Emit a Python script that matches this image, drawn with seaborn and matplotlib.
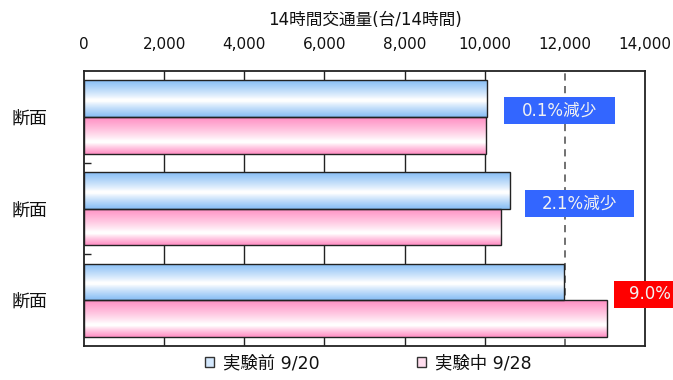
import numpy as np
import pandas as pd
import matplotlib
matplotlib.use("Agg")
import matplotlib.pyplot as plt
import seaborn as sns
from matplotlib.colors import to_rgb
from matplotlib.patches import Rectangle, Patch

# --- data -------------------------------------------------------------
section_ids = ["断面1", "断面2", "断面3"]
section_labels = ["断面", "断面", "断面"]
periods = ["実験前 9/20", "実験中 9/28"]
before = [10050, 10633, 11983]
during = [10040, 10410, 13061]
x_ticks = [0, 2000, 4000, 6000, 8000, 10000, 12000, 14000]
x_title = "14時間交通量(台/14時間)"

# --- style ------------------------------------------------------------
sns.set_theme(style="white")
plt.rcParams["font.family"] = ["DejaVu Sans", "Noto Sans CJK JP"]

blue = "#86BDF5"
pink = "#FF8EC3"
edge = "#222222"

df = pd.DataFrame({
    "section": section_ids * 2,
    "period": [periods[0]] * len(before) + [periods[1]] * len(during),
    "volume": before + during,
})

fig = plt.figure(figsize=(6.73, 3.80), dpi=100)
ax = fig.add_axes([84 / 673, 1 - 346 / 380, (645 - 84) / 673, (346 - 71) / 380])

sns.barplot(data=df, y="section", x="volume", hue="period",
            order=section_ids, hue_order=periods, orient="h",
            width=0.8, palette=[blue, pink], edgecolor=edge, linewidth=1.0,
            errorbar=None, legend=False, ax=ax, zorder=3)


def gradient(color, center):
    """Column of colours: saturated at both edges, white around `center`."""
    t = np.linspace(0, 1, 200)
    span = np.where(t < center, center, 1 - center)
    w = np.clip((np.abs(t - center) / span - 0.06) / 0.94, 0, 1) ** 0.85
    c = np.array(to_rgb(color))
    rows = (1 - w)[:, None] * 1.0 + w[:, None] * c[None, :]
    return rows[:, None, :]


# gradient fill clipped to every bar
for container, color, center in zip(ax.containers, [blue, pink], [0.55, 0.68]):
    img = gradient(color, center)
    for bar in container:
        x0, y0 = bar.get_x(), bar.get_y()
        w, h = bar.get_width(), bar.get_height()
        im = ax.imshow(img, extent=(x0, x0 + w, y0 + h, y0), origin="upper",
                       aspect="auto", interpolation="bilinear", zorder=2)
        im.set_clip_path(bar)
        bar.set_facecolor("none")

ax.set_xlim(x_ticks[0], x_ticks[-1])
ax.set_ylim(2.5, -0.5)
ax.set_aspect("auto")

# vertical gridlines behind the bars
for v in x_ticks[1:-2]:
    ax.axvline(v, color=edge, lw=1.0, zorder=1)
ax.axvline(x_ticks[-2], color="#666666", lw=1.3, dashes=(4, 3), zorder=1)

# axes / ticks
ax.xaxis.tick_top()
ax.xaxis.set_label_position("top")
ax.set_xticks(x_ticks)
ax.set_xticklabels([f"{v:,}" for v in x_ticks])
ax.tick_params(axis="x", length=0, pad=14, labelsize=11, colors="#111111")
ax.set_xlabel(x_title, fontsize=12, labelpad=8, color="#111111")

ax.set_yticks(range(len(section_labels)))
ax.set_yticklabels(section_labels)
ax.set_ylabel("")
ax.tick_params(axis="y", which="major", length=0, pad=26, labelsize=13, colors="#111111")
ax.set_yticks([0.5, 1.5], minor=True)
ax.tick_params(axis="y", which="minor", direction="in", length=5, width=1, color=edge, left=True)

for s in ax.spines.values():
    s.set_visible(True)
    s.set_color(edge)
    s.set_linewidth(1.3)

# change-rate boxes
boxes = [
    # (x0, x1, y0, y1, text x, facecolor)
    (10475, 13240, -0.216, 0.075, 11860, "#3366FF"),
    (11000, 13717, 0.798, 1.089, 12360, "#3366FF"),
    (13225, 14800, 1.791, 2.082, 14125, "#FF0000"),
]
for (x0, x1, y0, y1, tx, fc), b, d in zip(boxes, before, during):
    pct = (d - b) / b * 100
    label = f"{abs(pct):.1f}%減少" if pct < 0 else f"{pct:.1f}%"
    ax.add_patch(Rectangle((x0, y0), x1 - x0, y1 - y0, facecolor=fc,
                           edgecolor="none", zorder=5, clip_on=False))
    ax.text(tx, (y0 + y1) / 2, label, color="#F2F2F2", fontsize=12,
            ha="center", va="center", zorder=6, clip_on=False)

# legend
handles = [Patch(facecolor="#D4E8FD", edgecolor="#333333", lw=1.0),
           Patch(facecolor="#FFDDEE", edgecolor="#333333", lw=1.0)]
fig.legend(handles, periods, loc="center", bbox_to_anchor=(368 / 673, 1 - 363 / 380),
           ncol=2, frameon=False, fontsize=12.5, handlelength=0.55, handleheight=0.55,
           handletextpad=0.5, columnspacing=5.6, labelcolor="#111111")

fig.savefig("out.png", dpi=100)
